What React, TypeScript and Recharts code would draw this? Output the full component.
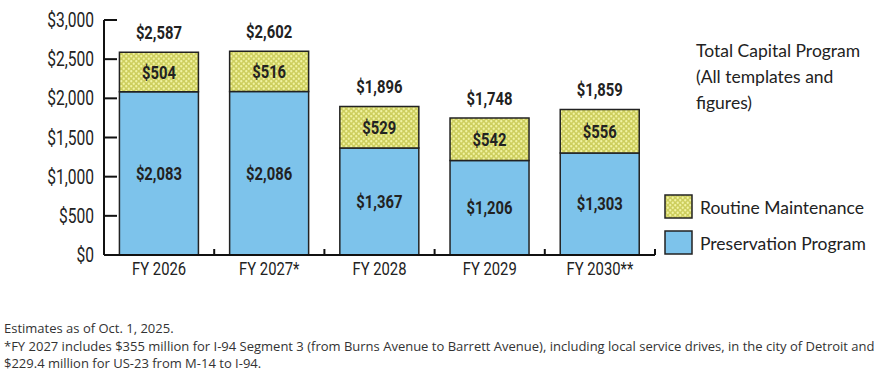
import { BarChart, Bar, XAxis, YAxis, LabelList } from "recharts";

const years = ["FY 2026", "FY 2027*", "FY 2028", "FY 2029", "FY 2030**"];
const preservation = [2083, 2086, 1367, 1206, 1303];
const routine = [504, 516, 529, 542, 556];
const totals = [2587, 2602, 1896, 1748, 1859];
const yTicks = [0, 500, 1000, 1500, 2000, 2500, 3000];
const legendItems = [
  { name: "Routine Maintenance", fill: "url(#dots)" },
  { name: "Preservation Program", fill: "#7dc3eb" },
];
const notes = [
  "Estimates as of Oct. 1, 2025.",
  "*FY 2027 includes $355 million for I-94 Segment 3 (from Burns Avenue to Barrett Avenue), including local service drives, in the city of Detroit and",
  "$229.4 million for US-23 from M-14 to I-94.",
];

const data = years.map((year, i) => ({
  year,
  preservation: preservation[i],
  routine: routine[i],
  total: totals[i],
}));

const money = (v: number) => "$" + v.toLocaleString("en-US");

const narrowFont = "Roboto, 'Liberation Sans', sans-serif";
const textFont = "Lato, 'Open Sans', sans-serif";

// condensed look: squeeze a normal sans horizontally
const NarrowText = ({ x, y, anchor = "middle", size = 18, bold = false, children }: any) => (
  <text
    transform={`translate(${x},${y}) scale(0.8,1)`}
    textAnchor={anchor}
    fontSize={size}
    fontWeight={bold ? "bold" : "normal"}
    fontFamily={narrowFont}
    fill="#222"
  >
    {children}
  </text>
);

const YTick = ({ x, y, payload }: any) => (
  <g>
    {payload.value !== 0 && <line x1={x} x2={x + 13} y1={y} y2={y} stroke="#111" strokeWidth={2} />}
    <NarrowText x={x - 10} y={y + 7} anchor="end" size={19.5}>
      {money(payload.value)}
    </NarrowText>
  </g>
);

const XTick = ({ x, y, payload }: any) => (
  <g>
    <line x1={x + 55.1} x2={x + 55.1} y1={y - 6} y2={y} stroke="#111" strokeWidth={2} />
    <NarrowText x={x} y={y + 20} size={18.5}>
      {payload.value}
    </NarrowText>
  </g>
);

const box = (props: any) => {
  const vb = props.viewBox || props;
  const top = Math.min(vb.y, vb.y + vb.height);
  return { cx: vb.x + vb.width / 2, top, h: Math.abs(vb.height) };
};

const CenterLabel = (props: any) => {
  const { cx, top, h } = box(props);
  return (
    <NarrowText x={cx} y={top + h / 2 + 6.5} size={18.5} bold>
      {money(props.value)}
    </NarrowText>
  );
};

const TopLabel = (props: any) => {
  const { cx, top } = box(props);
  return (
    <NarrowText x={cx} y={top - 13} size={18.5} bold>
      {money(props.value)}
    </NarrowText>
  );
};

export default function App() {
  return (
    <div style={{ position: "absolute", left: 0, top: 0, width: 889, height: 373, background: "#fff" }}>
      <BarChart
        width={889}
        height={290}
        data={data}
        margin={{ top: 20, right: 234, left: 0, bottom: 0 }}
        barCategoryGap="14%"
      >
        <defs>
          <pattern id="dots" width={5} height={5} patternUnits="userSpaceOnUse">
            <rect width={5} height={5} fill="#cdce5e" />
            <circle cx={1.25} cy={1.25} r={1.15} fill="#f1f3a2" />
            <circle cx={3.75} cy={3.75} r={1.15} fill="#f1f3a2" />
          </pattern>
        </defs>
        <XAxis
          dataKey="year"
          height={35}
          tickSize={0}
          tickMargin={0}
          tickLine={false}
          axisLine={{ stroke: "#111", strokeWidth: 2 }}
          tick={<XTick />}
          interval={0}
        />
        <YAxis
          width={104}
          domain={[0, 3000]}
          ticks={yTicks}
          tickSize={0}
          tickMargin={0}
          tickLine={false}
          axisLine={{ stroke: "#111", strokeWidth: 2 }}
          tick={<YTick />}
        />
        <Bar dataKey="preservation" stackId="a" fill="#7dc3eb" stroke="#222" strokeWidth={1.5} isAnimationActive={false}>
          <LabelList dataKey="preservation" content={<CenterLabel />} />
        </Bar>
        <Bar dataKey="routine" stackId="a" fill="url(#dots)" stroke="#222" strokeWidth={1.5} isAnimationActive={false}>
          <LabelList dataKey="routine" content={<CenterLabel />} />
          <LabelList dataKey="total" content={<TopLabel />} />
        </Bar>
      </BarChart>
      <div
        style={{
          position: "absolute",
          left: 696,
          top: 38,
          width: 190,
          fontFamily: textFont,
          fontSize: 17.5,
          lineHeight: "26px",
          color: "#222",
        }}
      >
        Total Capital Program
        <br />
        (All templates and
        <br />
        figures)
      </div>
      <div style={{ position: "absolute", left: 664, top: 189, fontFamily: textFont, fontSize: 17.5, color: "#222" }}>
        {legendItems.map((item) => (
          <div key={item.name} style={{ display: "flex", alignItems: "center", height: 36 }}>
            <svg width={30} height={26} style={{ marginRight: 6 }}>
              <rect x={1} y={1} width={27} height={23} fill={item.fill} stroke="#222" strokeWidth={1.5} />
            </svg>
            {item.name}
          </div>
        ))}
      </div>
      <div
        style={{
          position: "absolute",
          left: 4,
          top: 320,
          fontFamily: "'Open Sans', sans-serif",
          fontSize: 13,
          lineHeight: "17.5px",
          color: "#333",
          whiteSpace: "nowrap",
        }}
      >
        {notes.map((line) => (
          <div key={line}>{line}</div>
        ))}
      </div>
    </div>
  );
}
